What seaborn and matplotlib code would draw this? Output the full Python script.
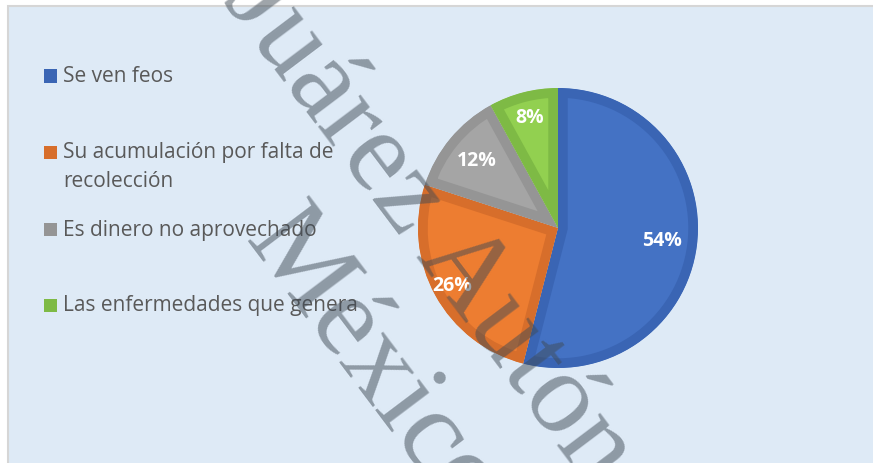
import numpy as np
import matplotlib
matplotlib.use("Agg")
import matplotlib.pyplot as plt
import seaborn as sns
from matplotlib.patches import Rectangle

# data
labels = ["Se ven feos",
          "Su acumulación por falta de\nrecolección",
          "Es dinero no aprovechado",
          "Las enfermedades que genera"]
shares = [54, 26, 12, 8]
fill_colors = ["#4472C4", "#ED7D31", "#A5A5A5", "#92D050"]
edge_colors = ["#3A65B4", "#D76E2B", "#959595", "#7EBA45"]
watermark = ["Juárez Autónoma", "México"]

sns.set_style("white")
plt.rcParams['font.family'] = ['Open Sans', 'DejaVu Sans']

W, H = 873, 463
fig = plt.figure(figsize=(W / 100, H / 100), dpi=100, facecolor="white")


def fx(x):
    return x / W


def fy(y):
    return 1 - y / H


# chart area background
fig.patches.append(Rectangle((fx(8), -0.05), 1.1, fy(6) + 0.05, transform=fig.transFigure,
                             facecolor="#DEEAF6", edgecolor="#D6D6D6", linewidth=1.5, zorder=-5))

ax = fig.add_axes([fx(418), fy(368), 280 / W, 280 / H])
ax.set_zorder(1)
wedges, texts, autotexts = ax.pie(
    shares, colors=fill_colors, startangle=90, counterclock=False,
    autopct="%.0f%%", pctdistance=0.8,
    textprops=dict(color="white", fontsize=14, fontweight="bold"),
    wedgeprops=dict(linewidth=14),
)
# darker border drawn only inside each slice
for w, ec in zip(wedges, edge_colors):
    w.set_edgecolor(ec)
    w.set_clip_path(w)
    w.set_clip_on(True)

# label distances like Excel's best fit
pct_dist = [0.75, 0.86, 0.75, 0.81]
for w, t, d in zip(wedges, autotexts, pct_dist):
    ang = np.deg2rad((w.theta1 + w.theta2) / 2)
    t.set_position((d * np.cos(ang), d * np.sin(ang)))

ax.set_xlim(-1, 1)
ax.set_ylim(-1, 1)
ax.set_aspect("equal")
ax.axis("off")

# legend on the left
legend_y = [76, 167, 230, 305]
square_y = [76, 152, 230, 305]
for lab, ty, sy, c in zip(labels, legend_y, square_y, edge_colors):
    fig.patches.append(Rectangle((fx(44), fy(sy + 6.5)), 13 / W, 13 / H, transform=fig.transFigure,
                                 facecolor=c, edgecolor="none", zorder=2))
    fig.text(fx(63), fy(ty), lab, fontsize=15, color="#595959", va="center", ha="left",
             linespacing=1.5, zorder=3)

# document watermark running across the chart
wm_start = [(222, 0), (243, 240)]
for txt, (sx, sy) in zip(watermark, wm_start):
    fig.text(fx(sx), fy(sy), txt, fontsize=84, family="Liberation Serif",
             color="#3F4A55", alpha=0.5, rotation=-53, rotation_mode="anchor",
             ha="left", va="baseline", zorder=10)

fig.savefig("out.png", dpi=100, facecolor="white")
